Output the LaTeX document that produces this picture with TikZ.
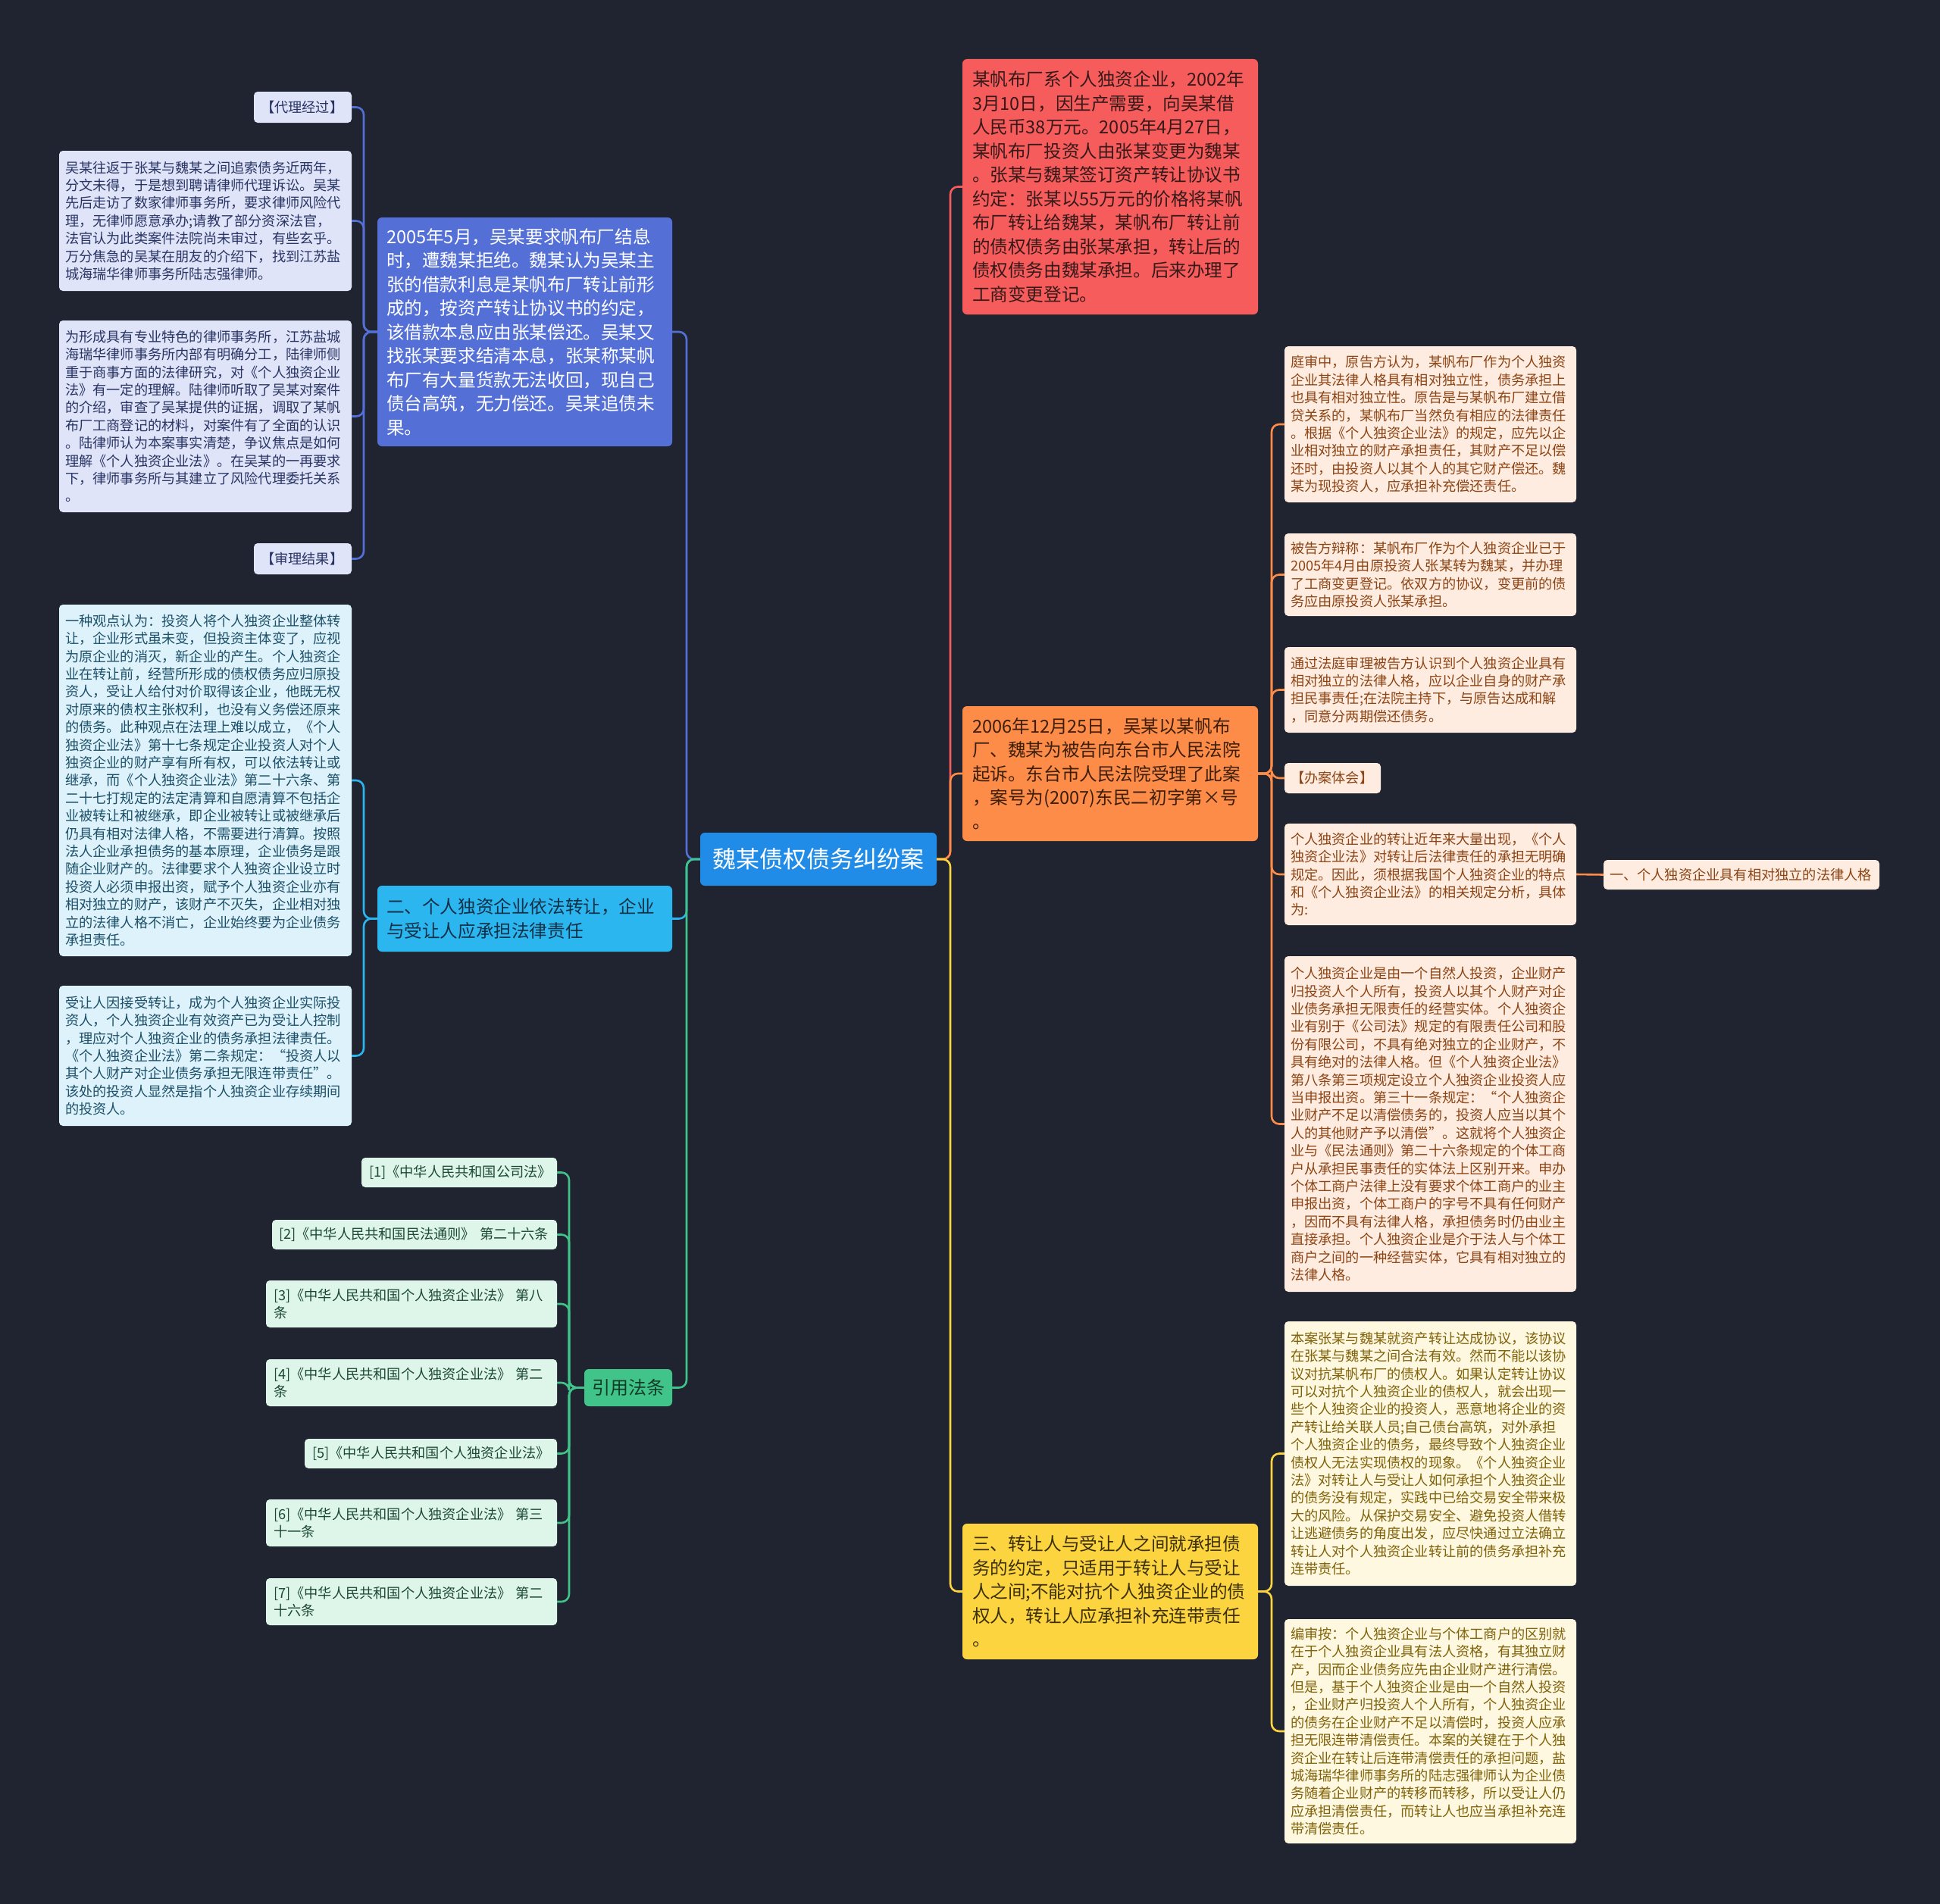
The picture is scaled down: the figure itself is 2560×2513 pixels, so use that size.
\documentclass[tikz,border=0pt]{standalone}
\usepackage{fontspec}
\setmainfont{Noto Sans CJK SC}
\definecolor{bgc}{RGB}{32,36,48}
\definecolor{cCtr}{RGB}{32,140,232}
\definecolor{cRed}{RGB}{246,92,92}
\definecolor{cRedT}{RGB}{55,25,25}
\definecolor{cOrg}{RGB}{252,140,72}
\definecolor{cOrgT}{RGB}{60,30,10}
\definecolor{cYel}{RGB}{252,212,64}
\definecolor{cYelT}{RGB}{60,48,10}
\definecolor{cBlu}{RGB}{84,112,214}
\definecolor{cCya}{RGB}{44,182,240}
\definecolor{cCyaT}{RGB}{18,48,70}
\definecolor{cGrn}{RGB}{64,196,138}
\definecolor{cGrnT}{RGB}{18,60,40}
\definecolor{lBlu}{RGB}{224,228,248}
\definecolor{lBluT}{RGB}{40,52,100}
\definecolor{lCya}{RGB}{222,242,252}
\definecolor{lCyaT}{RGB}{28,80,104}
\definecolor{lGrn}{RGB}{222,246,234}
\definecolor{lGrnT}{RGB}{28,72,52}
\definecolor{lOrg}{RGB}{254,236,224}
\definecolor{lOrgT}{RGB}{140,68,20}
\definecolor{lYel}{RGB}{254,248,224}
\definecolor{lYelT}{RGB}{128,98,10}
\newcommand{\mmnode}[8]{%
  \pgfmathsetmacro{\mmW}{#5-#3}%
  \pgfmathsetmacro{\mmH}{#6-#4}%
  \pgfmathsetmacro{\mmT}{#5-#3-2*#7}%
  \node[#2, anchor=north west, inner xsep=#7pt, minimum width=\mmW pt, minimum height=\mmH pt, text width=\mmT pt] (#1) at (#3,#4) {#8};%
}
\tikzset{
  conn/.style={line width=2.6pt, rounded corners=10pt},
  bignode/.style={rounded corners=6pt, align=left, inner ysep=4pt, outer sep=0pt, font=\fontsize{23.6}{31.5}\selectfont},
  leafnode/.style={rounded corners=5pt, align=left, inner ysep=3pt, outer sep=0pt, font=\fontsize{18.2}{23.4}\selectfont},
  centern/.style={rounded corners=6pt, align=center, inner ysep=4pt, outer sep=0pt, fill=cCtr, text=white, font=\fontsize{31}{38}\selectfont},
  redn/.style={bignode, fill=cRed, text=cRedT},
  orgn/.style={bignode, fill=cOrg, text=cOrgT},
  yeln/.style={bignode, fill=cYel, text=cYelT},
  blun/.style={bignode, fill=cBlu, text=white},
  cyan/.style={bignode, fill=cCya, text=cCyaT},
  grnn/.style={bignode, fill=cGrn, text=cGrnT, align=center, font=\fontsize{24}{30}\selectfont},
  lblu/.style={leafnode, fill=lBlu, text=lBluT},
  lcya/.style={leafnode, fill=lCya, text=lCyaT},
  lgrn/.style={leafnode, fill=lGrn, text=lGrnT},
  lorg/.style={leafnode, fill=lOrg, text=lOrgT},
  lyel/.style={leafnode, fill=lYel, text=lYelT},
}
\begin{document}
\begin{tikzpicture}[x=1pt,y=-1pt]
\useasboundingbox (0,0) rectangle (2560,2513);
\fill[bgc] (0,0) rectangle (2560,2513);

% center
\mmnode{ctr}{centern}{924}{1099}{1236}{1169}{10}{魏某债权债务纠纷案}

% right main branches
\mmnode{red}{redn}{1270}{78}{1660}{415}{13}{某帆布厂系个人独资企业，2002年\\3月10日，因生产需要，向吴某借\\人民币38万元。2005年4月27日，\\某帆布厂投资人由张某变更为魏某\\。张某与魏某签订资产转让协议书\\约定：张某以55万元的价格将某帆\\布厂转让给魏某，某帆布厂转让前\\的债权债务由张某承担，转让后的\\债权债务由魏某承担。后来办理了\\工商变更登记。}
\mmnode{org}{orgn}{1270}{932}{1660}{1110}{13}{2006年12月25日，吴某以某帆布\\厂、魏某为被告向东台市人民法院\\起诉。东台市人民法院受理了此案\\，案号为(2007)东民二初字第×号\\。}
\mmnode{yel}{yeln}{1270}{2011}{1660}{2190}{13}{三、转让人与受让人之间就承担债\\务的约定，只适用于转让人与受让\\人之间;不能对抗个人独资企业的债\\权人，转让人应承担补充连带责任\\。}

% left main branches
\mmnode{blu}{blun}{498}{287}{887}{589}{12}{2005年5月，吴某要求帆布厂结息\\时，遭魏某拒绝。魏某认为吴某主\\张的借款利息是某帆布厂转让前形\\成的，按资产转让协议书的约定，\\该借款本息应由张某偿还。吴某又\\找张某要求结清本息，张某称某帆\\布厂有大量货款无法收回，现自己\\债台高筑，无力偿还。吴某追债未\\果。}
\mmnode{cya}{cyan}{498}{1169}{887}{1256}{12}{二、个人独资企业依法转让，企业\\与受让人应承担法律责任}
\mmnode{grn}{grnn}{771}{1807}{887}{1856}{6}{引用法条}

% orange children
\mmnode{oa}{lorg}{1695}{457}{2080}{663}{8}{庭审中，原告方认为，某帆布厂作为个人独资\\企业其法律人格具有相对独立性，债务承担上\\也具有相对独立性。原告是与某帆布厂建立借\\贷关系的，某帆布厂当然负有相应的法律责任\\。根据《个人独资企业法》的规定，应先以企\\业相对独立的财产承担责任，其财产不足以偿\\还时，由投资人以其个人的其它财产偿还。魏\\某为现投资人，应承担补充偿还责任。}
\mmnode{ob}{lorg}{1695}{704}{2080}{813}{8}{被告方辩称：某帆布厂作为个人独资企业已于\\2005年4月由原投资人张某转为魏某，并办理\\了工商变更登记。依双方的协议，变更前的债\\务应由原投资人张某承担。}
\mmnode{oc}{lorg}{1695}{854}{2080}{967}{8}{通过法庭审理被告方认识到个人独资企业具有\\相对独立的法律人格，应以企业自身的财产承\\担民事责任;在法院主持下，与原告达成和解\\，同意分两期偿还债务。}
\mmnode{od}{lorg}{1695}{1007}{1822}{1047}{8}{【办案体会】}
\mmnode{oe}{lorg}{1695}{1087}{2080}{1221}{8}{个人独资企业的转让近年来大量出现，《个人\\独资企业法》对转让后法律责任的承担无明确\\规定。因此，须根据我国个人独资企业的特点\\和《个人独资企业法》的相关规定分析，具体\\为:}
\mmnode{oe1}{lorg}{2116}{1135}{2480}{1174}{8}{一、个人独资企业具有相对独立的法律人格}
\mmnode{of}{lorg}{1695}{1262}{2080}{1705}{8}{个人独资企业是由一个自然人投资，企业财产\\归投资人个人所有，投资人以其个人财产对企\\业债务承担无限责任的经营实体。个人独资企\\业有别于《公司法》规定的有限责任公司和股\\份有限公司，不具有绝对独立的企业财产，不\\具有绝对的法律人格。但《个人独资企业法》\\第八条第三项规定设立个人独资企业投资人应\\当申报出资。第三十一条规定：“个人独资企\\业财产不足以清偿债务的，投资人应当以其个\\人的其他财产予以清偿”。这就将个人独资企\\业与《民法通则》第二十六条规定的个体工商\\户从承担民事责任的实体法上区别开来。申办\\个体工商户法律上没有要求个体工商户的业主\\申报出资，个体工商户的字号不具有任何财产\\，因而不具有法律人格，承担债务时仍由业主\\直接承担。个人独资企业是介于法人与个体工\\商户之间的一种经营实体，它具有相对独立的\\法律人格。}

% yellow children
\mmnode{yg}{lyel}{1695}{1744}{2080}{2093}{8}{本案张某与魏某就资产转让达成协议，该协议\\在张某与魏某之间合法有效。然而不能以该协\\议对抗某帆布厂的债权人。如果认定转让协议\\可以对抗个人独资企业的债权人，就会出现一\\些个人独资企业的投资人，恶意地将企业的资\\产转让给关联人员;自己债台高筑，对外承担\\个人独资企业的债务，最终导致个人独资企业\\债权人无法实现债权的现象。《个人独资企业\\法》对转让人与受让人如何承担个人独资企业\\的债务没有规定，实践中已给交易安全带来极\\大的风险。从保护交易安全、避免投资人借转\\让逃避债务的角度出发，应尽快通过立法确立\\转让人对个人独资企业转让前的债务承担补充\\连带责任。}
\mmnode{yh}{lyel}{1695}{2137}{2080}{2433}{8}{编审按：个人独资企业与个体工商户的区别就\\在于个人独资企业具有法人资格，有其独立财\\产，因而企业债务应先由企业财产进行清偿。\\但是，基于个人独资企业是由一个自然人投资\\，企业财产归投资人个人所有，个人独资企业\\的债务在企业财产不足以清偿时，投资人应承\\担无限连带清偿责任。本案的关键在于个人独\\资企业在转让后连带清偿责任的承担问题，盐\\城海瑞华律师事务所的陆志强律师认为企业债\\务随着企业财产的转移而转移，所以受让人仍\\应承担清偿责任，而转让人也应当承担补充连\\带清偿责任。}

% blue children
\mmnode{ba}{lblu}{335}{121}{464}{162}{9}{【代理经过】}
\mmnode{bb}{lblu}{78}{199}{464}{384}{8}{吴某往返于张某与魏某之间追索债务近两年，\\分文未得，于是想到聘请律师代理诉讼。吴某\\先后走访了数家律师事务所，要求律师风险代\\理，无律师愿意承办;请教了部分资深法官，\\法官认为此类案件法院尚未审过，有些玄乎。\\万分焦急的吴某在朋友的介绍下，找到江苏盐\\城海瑞华律师事务所陆志强律师。}
\mmnode{bc}{lblu}{78}{423}{464}{676}{8}{为形成具有专业特色的律师事务所，江苏盐城\\海瑞华律师事务所内部有明确分工，陆律师侧\\重于商事方面的法律研究，对《个人独资企业\\法》有一定的理解。陆律师听取了吴某对案件\\的介绍，审查了吴某提供的证据，调取了某帆\\布厂工商登记的材料，对案件有了全面的认识\\。陆律师认为本案事实清楚，争议焦点是如何\\理解《个人独资企业法》。在吴某的一再要求\\下，律师事务所与其建立了风险代理委托关系\\。}
\mmnode{bd}{lblu}{335}{717}{464}{758}{9}{【审理结果】}

% cyan children
\mmnode{ca}{lcya}{78}{798}{464}{1262}{8}{一种观点认为：投资人将个人独资企业整体转\\让，企业形式虽未变，但投资主体变了，应视\\为原企业的消灭，新企业的产生。个人独资企\\业在转让前，经营所形成的债权债务应归原投\\资人，受让人给付对价取得该企业，他既无权\\对原来的债权主张权利，也没有义务偿还原来\\的债务。此种观点在法理上难以成立，《个人\\独资企业法》第十七条规定企业投资人对个人\\独资企业的财产享有所有权，可以依法转让或\\继承，而《个人独资企业法》第二十六条、第\\二十七打规定的法定清算和自愿清算不包括企\\业被转让和被继承，即企业被转让或被继承后\\仍具有相对法律人格，不需要进行清算。按照\\法人企业承担债务的基本原理，企业债务是跟\\随企业财产的。法律要求个人独资企业设立时\\投资人必须申报出资，赋予个人独资企业亦有\\相对独立的财产，该财产不灭失，企业相对独\\立的法律人格不消亡，企业始终要为企业债务\\承担责任。}
\mmnode{cb}{lcya}{78}{1301}{464}{1486}{8}{受让人因接受转让，成为个人独资企业实际投\\资人，个人独资企业有效资产已为受让人控制\\，理应对个人独资企业的债务承担法律责任。\\《个人独资企业法》第二条规定：“投资人以\\其个人财产对企业债务承担无限连带责任”。\\该处的投资人显然是指个人独资企业存续期间\\的投资人。}

% green children
\mmnode{g1}{lgrn}{477}{1528}{735}{1567}{10}{[1]《中华人民共和国公司法》}
\mmnode{g2}{lgrn}{359}{1610}{735}{1649}{9}{\mbox{[2]《中华人民共和国民法通则》 第二十六条}}
\mmnode{g3}{lgrn}{351}{1690}{735}{1752}{10}{[3]《中华人民共和国个人独资企业法》 第八\\条}
\mmnode{g4}{lgrn}{351}{1794}{735}{1856}{10}{[4]《中华人民共和国个人独资企业法》 第二\\条}
\mmnode{g5}{lgrn}{402}{1899}{735}{1938}{10}{[5]《中华人民共和国个人独资企业法》}
\mmnode{g6}{lgrn}{351}{1979}{735}{2041}{10}{[6]《中华人民共和国个人独资企业法》 第三\\十一条}
\mmnode{g7}{lgrn}{351}{2083}{735}{2145}{10}{[7]《中华人民共和国个人独资企业法》 第二\\十六条}

% connectors from center
\draw[conn, cRed] (ctr.east) -- ++(18,0) |- (red.west);
\draw[conn, cOrg] (ctr.east) -- ++(18,0) |- (org.west);
\draw[conn, cYel] (ctr.east) -- ++(18,0) |- (yel.west);
\draw[conn, cBlu] (ctr.west) -- ++(-18,0) |- (blu.east);
\draw[conn, cCya] (ctr.west) -- ++(-18,0) |- (cya.east);
\draw[conn, cGrn] (ctr.west) -- ++(-18,0) |- (grn.east);

% orange children
\foreach \n in {oa,ob,oc,od,oe,of}{\draw[conn, cOrg] (org.east) -- ++(18,0) |- (\n.west);}
\draw[conn, cOrg] (oe.east) -- (oe1.west);
% yellow children
\foreach \n in {yg,yh}{\draw[conn, cYel] (yel.east) -- ++(18,0) |- (\n.west);}
% blue children
\foreach \n in {ba,bb,bc,bd}{\draw[conn, cBlu] (blu.west) -- ++(-18,0) |- (\n.east);}
% cyan children
\foreach \n in {ca,cb}{\draw[conn, cCya] (cya.west) -- ++(-18,0) |- (\n.east);}
% green children
\foreach \n in {g1,g2,g3,g4,g5,g6,g7}{\draw[conn, cGrn] (grn.west) -- ++(-20,0) |- (\n.east);}
\end{tikzpicture}
\end{document}
